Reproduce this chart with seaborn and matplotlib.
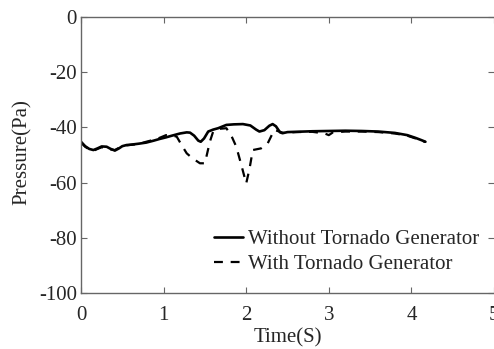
import matplotlib
matplotlib.use("Agg")
import matplotlib.pyplot as plt
import seaborn as sns
import pandas as pd

# Pressure history without the tornado generator
time_without = [0.00, 0.05, 0.10, 0.15, 0.20, 0.25, 0.31, 0.36, 0.41, 0.46, 0.50, 0.55,
                0.62, 0.70, 0.79, 0.88, 0.95, 1.03, 1.10, 1.20, 1.28, 1.32, 1.37, 1.42,
                1.45, 1.49, 1.54, 1.60, 1.66, 1.76, 1.85, 1.96, 2.05, 2.12, 2.16, 2.22,
                2.28, 2.32, 2.36, 2.41, 2.44, 2.50, 2.60, 2.80, 3.00, 3.20, 3.40, 3.60,
                3.80, 3.95, 4.05, 4.12, 4.17]
pressure_without = [-45.2, -46.8, -47.8, -48.2, -47.6, -46.9, -47.0, -47.8, -48.4, -47.6,
                    -46.8, -46.4, -46.2, -45.9, -45.5, -44.8, -44.2, -43.6, -43.0, -42.2,
                    -41.8, -41.9, -43.0, -44.8, -45.2, -44.0, -41.5, -40.8, -40.3, -39.1,
                    -38.9, -38.8, -39.3, -40.8, -41.5, -41.0, -39.4, -38.8, -39.6, -41.8,
                    -42.1, -41.7, -41.6, -41.4, -41.3, -41.2, -41.3, -41.5, -42.0, -42.8,
                    -43.8, -44.6, -45.2]

# Pressure history with the tornado generator
time_with = [0.00, 0.05, 0.10, 0.15, 0.20, 0.25, 0.31, 0.36, 0.41, 0.46, 0.55, 0.70,
             0.79, 0.88, 0.95, 1.03, 1.10, 1.16, 1.22, 1.28, 1.35, 1.44, 1.50, 1.56,
             1.60, 1.68, 1.76, 1.82, 1.88, 1.94, 2.00, 2.04, 2.08, 2.18, 2.26, 2.34,
             2.40, 2.45, 2.60, 2.80, 2.95, 3.00, 3.05, 3.20, 3.40, 3.60, 3.80, 3.95,
             4.05, 4.12, 4.17]
pressure_with = [-45.5, -47.0, -48.0, -48.5, -47.8, -47.2, -47.5, -48.0, -48.2, -47.4,
                 -46.5, -46.0, -45.2, -44.5, -43.8, -42.8, -42.8, -43.4, -46.5, -49.4,
                 -51.2, -53.0, -53.0, -45.2, -41.5, -40.5, -40.3, -43.0, -47.0, -53.5,
                 -60.3, -55.0, -48.2, -47.6, -45.8, -40.9, -41.5, -42.0, -41.7, -41.6,
                 -42.2, -42.8, -41.8, -41.5, -41.5, -41.7, -42.2, -43.0, -44.0, -44.8,
                 -45.3]

labels = ["Without Tornado Generator", "With Tornado Generator"]
x_ticks = [0, 1, 2, 3, 4, 5]
y_ticks = [0, -20, -40, -60, -80, -100]

sns.set_style("ticks")
plt.rcParams["font.family"] = ["Liberation Serif", "DejaVu Serif"]
plt.rcParams["font.size"] = 15
plt.rcParams["xtick.direction"] = "in"
plt.rcParams["ytick.direction"] = "in"

fig = plt.figure(figsize=(4.94, 3.49), dpi=100)
ax = fig.add_axes([81 / 494, 1 - 293 / 349, (494 - 81) / 494, (293 - 17) / 349])

df_without = pd.DataFrame({"t": time_without, "p": pressure_without})
df_with = pd.DataFrame({"t": time_with, "p": pressure_with})

sns.lineplot(data=df_without, x="t", y="p", ax=ax, color="black", lw=1.9,
             label=labels[0], sort=False)
sns.lineplot(data=df_with, x="t", y="p", ax=ax, color="black", lw=1.6,
             dashes=(4, 3.5), label=labels[1], sort=False)

ax.set_xlim(0, 5)
ax.set_ylim(-100, 0)
ax.set_xticks(x_ticks)
ax.set_yticks(y_ticks)
ax.set_xticklabels([str(v) for v in x_ticks])
ax.set_yticklabels([str(v) for v in y_ticks])
ax.set_xlabel("Time(S)", labelpad=3)
ax.set_ylabel("Pressure(Pa)")
ax.yaxis.set_label_coords(-0.118, 0.51)

axis_grey = "#666666"
for side in ["left", "bottom", "top"]:
    ax.spines[side].set_color(axis_grey)
    ax.spines[side].set_linewidth(1.0)
ax.spines["right"].set_visible(False)
ax.tick_params(axis="both", which="both", top=True, right=True, length=4,
               width=0.8, color=axis_grey)
ax.tick_params(axis="y", pad=3)
ax.tick_params(axis="x", pad=9)

leg = ax.legend(loc="upper left", bbox_to_anchor=(0.322, 0.23), frameon=False,
                handlelength=1.4, handletextpad=0.25, labelspacing=0.25,
                borderpad=0, borderaxespad=0, fontsize=15)

fig.savefig("out.png", dpi=100)
